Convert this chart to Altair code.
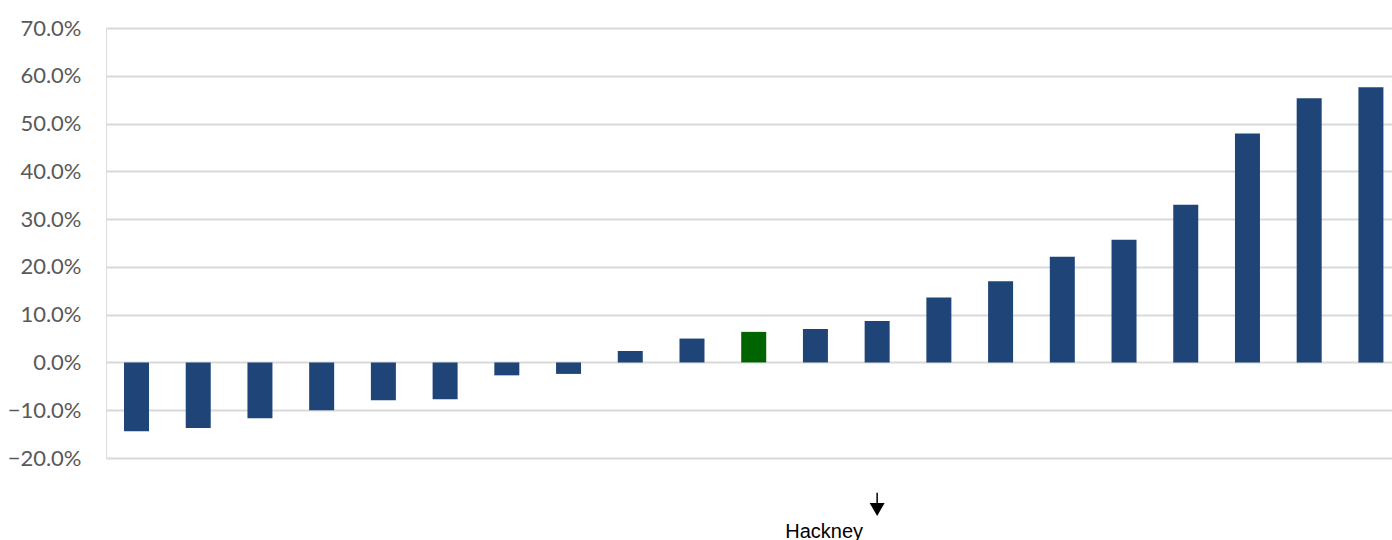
import altair as alt
import pandas as pd

# ---- data ----
categories = [f"B{i:02d}" for i in range(1, 22)]
values_pct = [-14.4, -13.7, -11.7, -10.0, -7.9, -7.7, -2.7, -2.4, 2.4, 5.0,
              6.4, 7.0, 8.7, 13.6, 17.0, 22.1, 25.7, 33.0, 47.9, 55.3, 57.6]
highlight = [False] * 10 + [True] + [False] * 10
y_ticks = [-0.2, -0.1, 0.0, 0.1, 0.2, 0.3, 0.4, 0.5, 0.6, 0.7]

annot_category = "B13"
annot_label = "Hackney"
arrow_stem = (-0.2726, -0.2983)
arrow_head_y = -0.3077
label_y = -0.3674

df = pd.DataFrame({
    "cat": categories,
    "value": [v / 100 for v in values_pct],
    "hl": ["yes" if h else "no" for h in highlight],
})

x_scale = alt.Scale(domain=categories, paddingInner=0.595, paddingOuter=0.2155, align=0.677)
y_scale = alt.Scale(domain=[-0.2, 0.7], nice=False, zero=False)

bars = alt.Chart(df).mark_bar().encode(
    x=alt.X("cat:N", scale=x_scale, sort=categories, axis=None),
    y=alt.Y("value:Q", scale=y_scale,
            axis=alt.Axis(values=y_ticks, format=".1%", title=None, domain=False,
                          ticks=False, labelPadding=25, labelFont="Lato",
                          labelFontSize=22, labelColor="#595959",
                          gridColor="#d9d9d9", gridWidth=2)),
    color=alt.Color("hl:N", scale=alt.Scale(domain=["no", "yes"], range=["#1f4478", "#006400"]),
                    legend=None),
)

ann_df = pd.DataFrame({
    "cat": [annot_category],
    "y1": [arrow_stem[0]],
    "y2": [arrow_stem[1]],
    "yh": [arrow_head_y],
    "yl": [label_y],
    "label": [annot_label],
})

stem = alt.Chart(ann_df).mark_rule(color="black", strokeWidth=1.5).encode(
    x=alt.X("cat:N", scale=x_scale, sort=categories),
    y=alt.Y("y1:Q", scale=y_scale),
    y2="y2:Q",
)
head = alt.Chart(ann_df).mark_point(shape="triangle-down", filled=True, size=225,
                                     color="black", opacity=1).encode(
    x=alt.X("cat:N", scale=x_scale, sort=categories),
    y=alt.Y("yh:Q", scale=y_scale),
)
label = alt.Chart(ann_df).mark_text(font="Liberation Sans", fontSize=20, color="black",
                                     align="center", baseline="alphabetic", dx=-53).encode(
    x=alt.X("cat:N", scale=x_scale, sort=categories),
    y=alt.Y("yl:Q", scale=y_scale),
    text="label:N",
)

chart = alt.layer(bars, stem, head, label).properties(
    width=1286, height=430,
    autosize=alt.AutoSizeParams(type="none"),
    padding={"left": 106, "top": 28, "right": 0, "bottom": 82},
).configure_view(stroke=None).configure(background="white")

chart.save("out.html", embed_options={"renderer": "svg", "actions": False})
